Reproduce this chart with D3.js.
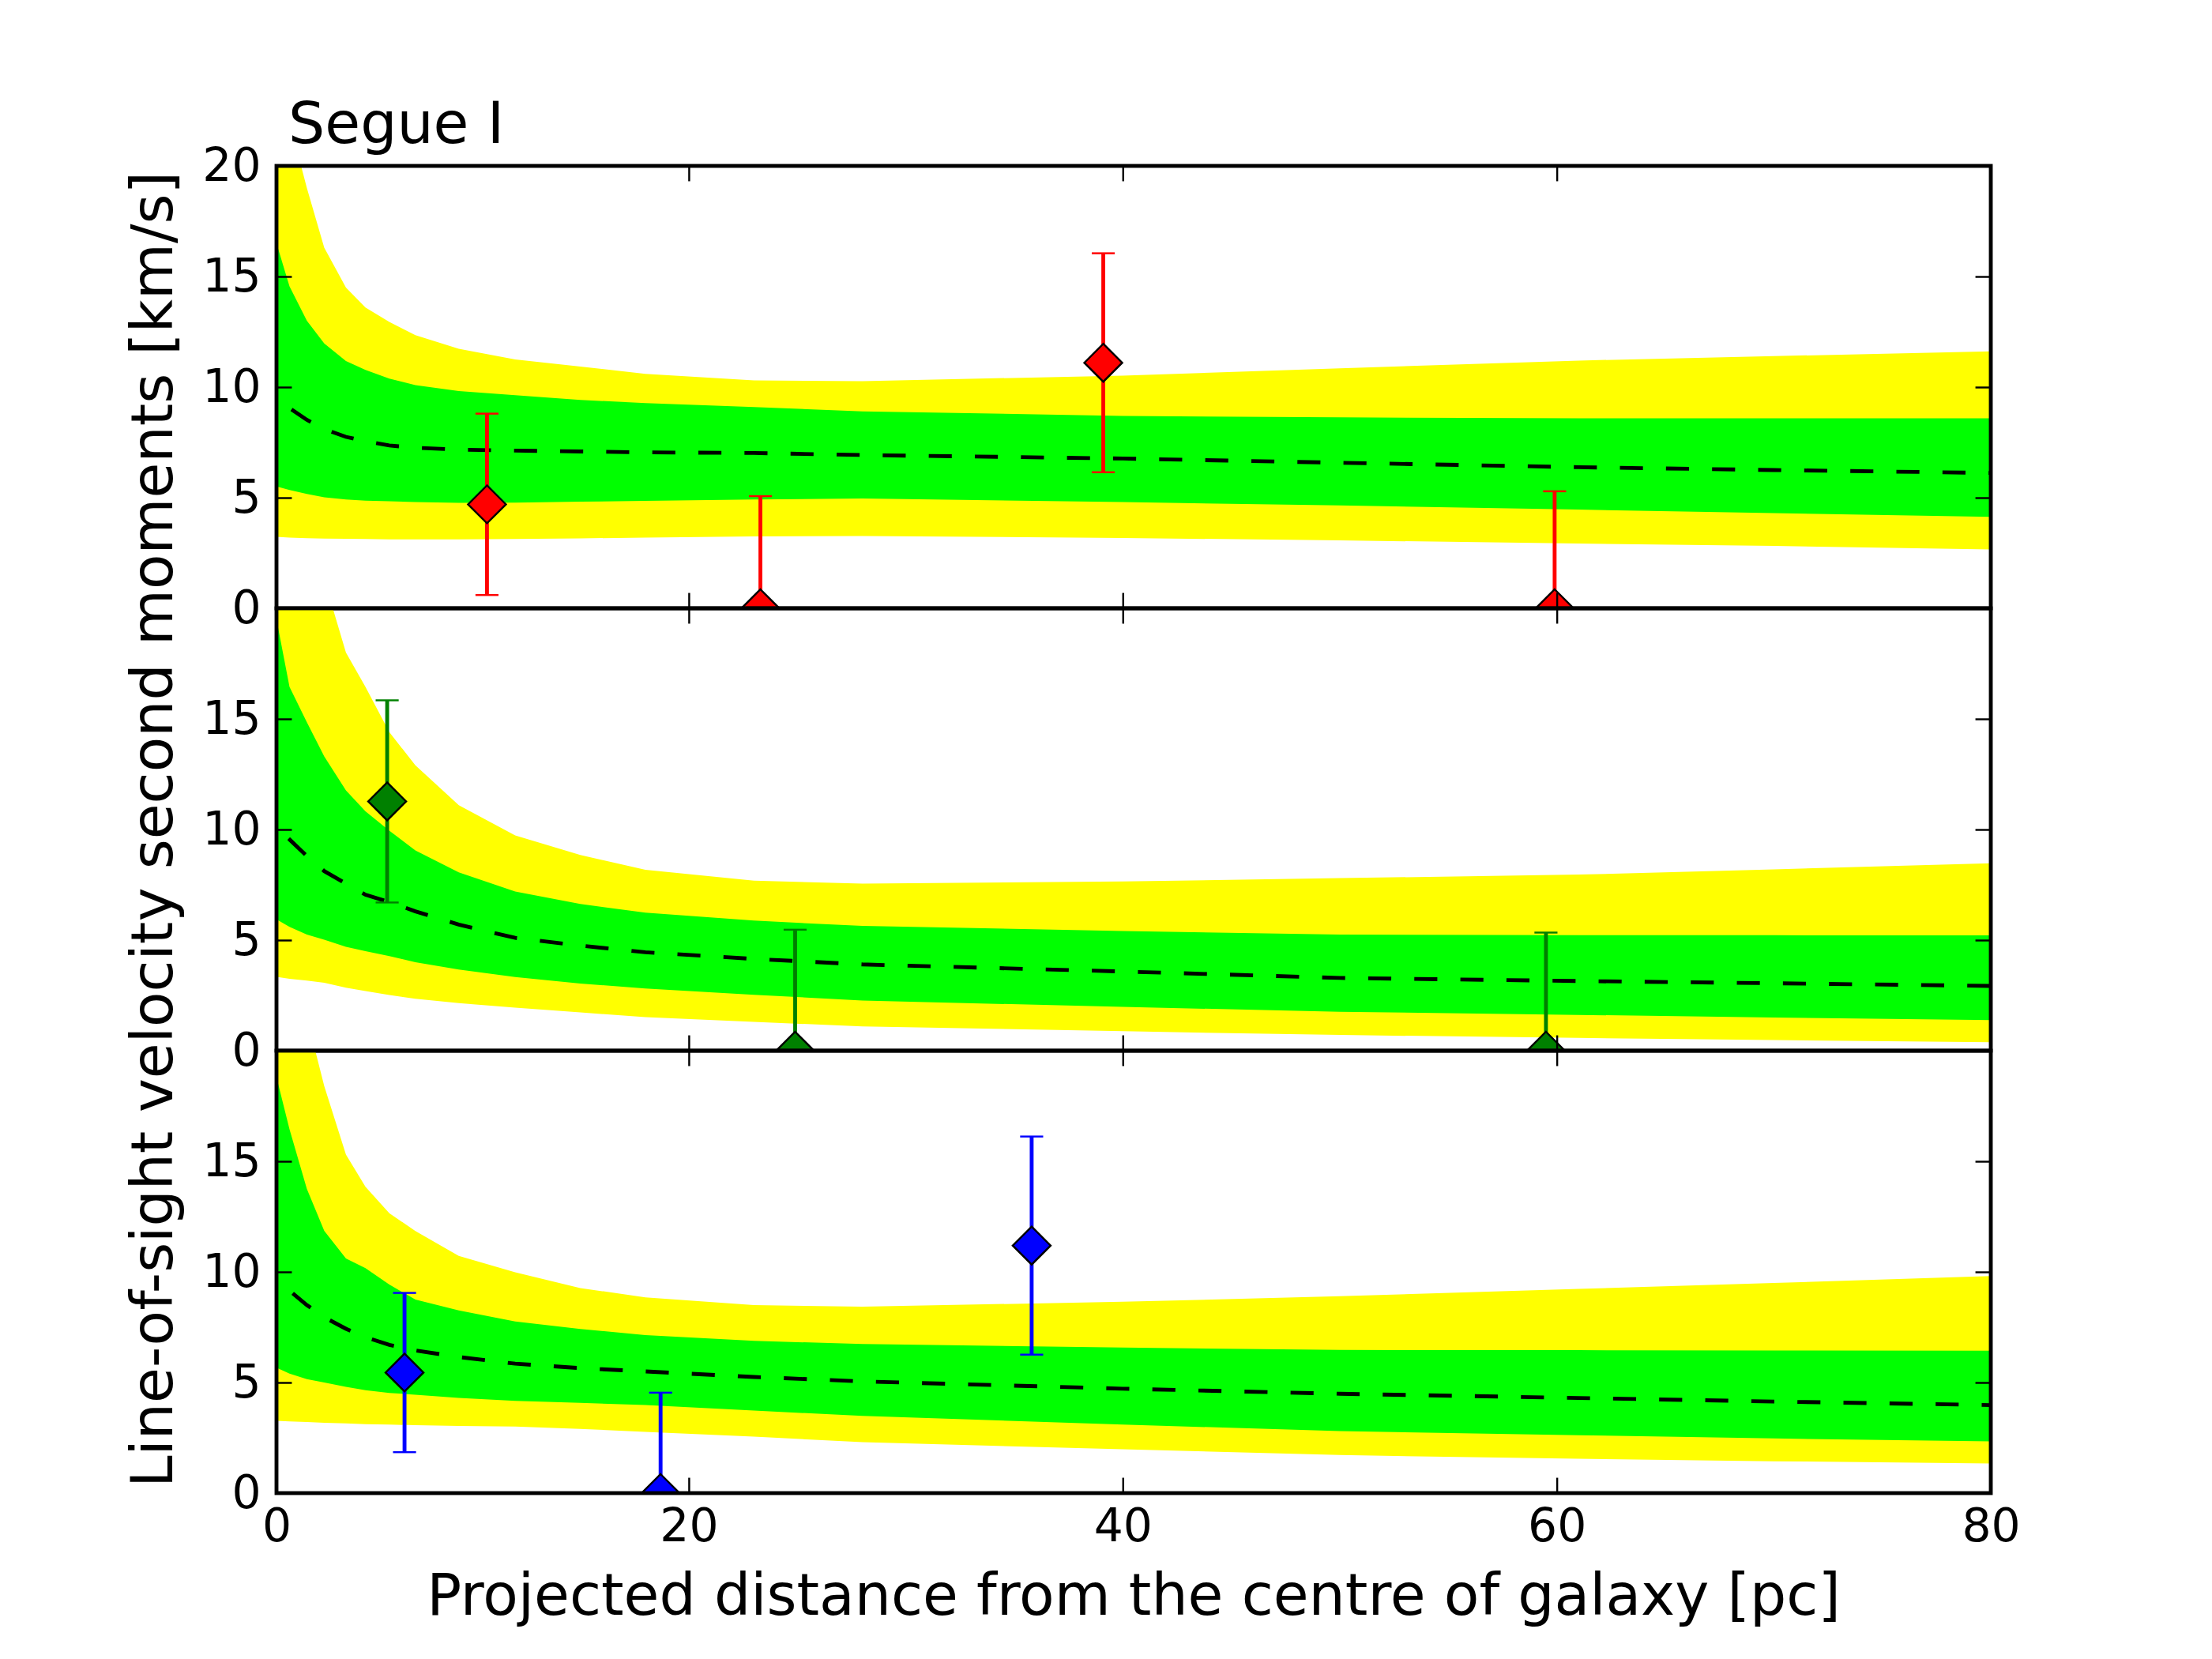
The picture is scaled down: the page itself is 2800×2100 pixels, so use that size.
<!DOCTYPE html>
<html>
<head>
<meta charset="utf-8">
<script src="https://cdn.jsdelivr.net/npm/d3@7"></script>
<style>
  html, body { margin: 0; padding: 0; background: #ffffff; }
  svg { display: block; }
  text { font-family: "DejaVu Sans", sans-serif; }
</style>
</head>
<body>
<script>
// ---------------- data ----------------
const title = "Segue I";
const xLabel = "Projected distance from the centre of galaxy [pc]";
const yLabel = "Line-of-sight velocity second moments [km/s]";

const xTickValues = [1, 20, 40, 60, 80];
const xTickLabels = ["0", "20", "40", "60", "80"];
const yTickValues = [0, 5, 10, 15, 20];

const radii = [0, 1, 1.6, 2.4, 3.2, 4.2, 5.1, 6.2, 7.4, 9.4, 12, 15, 18, 23, 28, 40, 50, 61, 70, 80];

// top panel (red)
const topHi2 = [30, 26, 22, 19.0, 16.3, 14.5, 13.6, 12.95, 12.35, 11.73, 11.25, 10.93, 10.6, 10.3, 10.27, 10.52, 10.85, 11.2, 11.4, 11.62];
const topHi1 = [19.5, 16.5, 14.55, 13.0, 11.97, 11.18, 10.78, 10.38, 10.09, 9.82, 9.63, 9.42, 9.28, 9.1, 8.9, 8.70, 8.63, 8.59, 8.59, 8.59];
const topMed = [10.25, 9.5, 9.05, 8.52, 8.1, 7.75, 7.55, 7.36, 7.26, 7.17, 7.13, 7.09, 7.05, 7.02, 6.93, 6.77, 6.58, 6.38, 6.25, 6.12];
const topLo1 = [5.7, 5.51, 5.35, 5.17, 5.02, 4.92, 4.87, 4.84, 4.8, 4.77, 4.78, 4.82, 4.86, 4.92, 4.96, 4.80, 4.65, 4.46, 4.3, 4.13];
const topLo2 = [3.25, 3.23, 3.2, 3.17, 3.15, 3.14, 3.13, 3.12, 3.12, 3.12, 3.13, 3.16, 3.2, 3.25, 3.27, 3.18, 3.07, 2.93, 2.82, 2.66];

// middle panel (green)
const midHi2 = [35, 30, 26, 23, 21.3, 18.0, 16.45, 14.4, 12.9, 11.1, 9.73, 8.85, 8.18, 7.69, 7.55, 7.65, 7.8, 7.96, 8.2, 8.47];
const midHi1 = [23, 19.5, 16.45, 14.85, 13.3, 11.77, 10.82, 9.95, 9.05, 8.06, 7.2, 6.63, 6.24, 5.88, 5.64, 5.41, 5.25, 5.22, 5.22, 5.21];
const midMed = [11.0, 10.1, 9.55, 8.8, 8.12, 7.55, 7.05, 6.72, 6.3, 5.7, 5.1, 4.75, 4.45, 4.15, 3.9, 3.58, 3.29, 3.15, 3.05, 2.93];
const midLo1 = [6.3, 5.94, 5.6, 5.25, 5.02, 4.7, 4.5, 4.28, 4.0, 3.67, 3.33, 3.04, 2.81, 2.53, 2.27, 1.98, 1.76, 1.62, 1.5, 1.38];
const midLo2 = [3.45, 3.34, 3.25, 3.17, 3.07, 2.85, 2.7, 2.52, 2.35, 2.15, 1.95, 1.73, 1.52, 1.3, 1.1, 0.88, 0.71, 0.58, 0.48, 0.38];

// bottom panel (blue)
const botHi2 = [32, 28, 25, 21.5, 18.4, 15.3, 13.85, 12.65, 11.85, 10.72, 9.98, 9.27, 8.85, 8.5, 8.43, 8.65, 8.9, 9.23, 9.5, 9.81];
const botHi1 = [22, 18.8, 16.45, 13.75, 11.86, 10.61, 10.17, 9.43, 8.75, 8.26, 7.76, 7.42, 7.14, 6.88, 6.74, 6.58, 6.47, 6.46, 6.45, 6.44];
const botMed = [10.2, 9.65, 9.15, 8.5, 7.95, 7.43, 7.05, 6.7, 6.45, 6.15, 5.85, 5.65, 5.5, 5.25, 5.05, 4.72, 4.49, 4.3, 4.14, 3.98];
const botLo1 = [5.95, 5.67, 5.4, 5.15, 5.0, 4.8, 4.65, 4.53, 4.45, 4.3, 4.17, 4.08, 3.98, 3.73, 3.49, 3.1, 2.8, 2.62, 2.47, 2.34];
const botLo2 = [3.3, 3.27, 3.24, 3.21, 3.18, 3.15, 3.12, 3.1, 3.07, 3.04, 3.01, 2.9, 2.77, 2.55, 2.3, 1.98, 1.72, 1.55, 1.44, 1.34];

// measured points with symmetric errors
const redX = [10.7, 23.3, 39.1, 59.9];
const redY = [4.7, 0, 11.1, 0];
const redErr = [4.1, 5.07, 4.95, 5.29];

const greenX = [6.1, 24.9, 59.5];
const greenY = [11.27, 0, 0];
const greenErr = [4.57, 5.47, 5.34];

const blueX = [6.9, 18.7, 35.8];
const blueY = [5.45, 0, 11.19];
const blueErr = [3.6, 4.54, 4.93];

// ---------------- layout ----------------
const W = 2800, H = 2100;
const mLeft = 350, mRight = 2520, mTop = 210, mBottom = 1890;
const panelH = (mBottom - mTop) / 3;
const PT = 350 / 72;              // px per point
const tickFont = 12 * PT;
const labelFont = 15 * PT;
const tickLen = 4 * PT;
const tickW = 0.5 * PT;
const spineW = 1 * PT;

const panels = [
  { hi2: topHi2, hi1: topHi1, med: topMed, lo1: topLo1, lo2: topLo2, px: redX, py: redY, pe: redErr, color: "#ff0000" },
  { hi2: midHi2, hi1: midHi1, med: midMed, lo1: midLo1, lo2: midLo2, px: greenX, py: greenY, pe: greenErr, color: "#008000" },
  { hi2: botHi2, hi1: botHi1, med: botMed, lo1: botLo1, lo2: botLo2, px: blueX, py: blueY, pe: blueErr, color: "#0000ff" }
];

const svg = d3.select("body").append("svg").attr("width", W).attr("height", H);
svg.append("rect").attr("width", W).attr("height", H).attr("fill", "#ffffff");

const x = d3.scaleLinear().domain([1, 80]).range([mLeft, mRight]);

panels.forEach((p, i) => {
  const y0 = mTop + i * panelH, y1 = y0 + panelH;
  const y = d3.scaleLinear().domain([0, 20]).range([y1, y0]);

  const clipId = "clip" + i;
  svg.append("clipPath").attr("id", clipId).append("rect")
    .attr("x", mLeft).attr("y", y0).attr("width", mRight - mLeft).attr("height", panelH);

  const g = svg.append("g").attr("clip-path", `url(#${clipId})`);

  const idx = d3.range(radii.length);
  const area = (lo, hi) => d3.area().x(k => x(radii[k])).y0(k => y(lo[k])).y1(k => y(hi[k]))(idx);

  g.append("path").attr("d", area(p.lo2, p.hi2)).attr("fill", "#ffff00").attr("stroke", "none");
  g.append("path").attr("d", area(p.lo1, p.hi1)).attr("fill", "#00ff00").attr("stroke", "none");
  g.append("path")
    .attr("d", d3.line().x(k => x(radii[k])).y(k => y(p.med[k]))(idx))
    .attr("fill", "none").attr("stroke", "#000").attr("stroke-width", spineW)
    .attr("stroke-dasharray", `${6 * PT},${6 * PT}`);

  const pts = d3.range(p.px.length);
  g.selectAll(null).data(pts).enter().append("line")
    .attr("x1", k => x(p.px[k])).attr("x2", k => x(p.px[k]))
    .attr("y1", k => y(p.py[k] - p.pe[k])).attr("y2", k => y(p.py[k] + p.pe[k]))
    .attr("stroke", p.color).attr("stroke-width", spineW);
  const capHalf = 3 * PT;
  [-1, 1].forEach(sgn => {
    g.selectAll(null).data(pts).enter().append("line")
      .attr("x1", k => x(p.px[k]) - capHalf).attr("x2", k => x(p.px[k]) + capHalf)
      .attr("y1", k => y(p.py[k] + sgn * p.pe[k])).attr("y2", k => y(p.py[k] + sgn * p.pe[k]))
      .attr("stroke", p.color).attr("stroke-width", tickW);
  });
  const r = 24;
  g.selectAll(null).data(pts).enter().append("path")
    .attr("d", k => {
      const cx = x(p.px[k]), cy = y(p.py[k]);
      return `M${cx},${cy - r}L${cx + r},${cy}L${cx},${cy + r}L${cx - r},${cy}Z`;
    })
    .attr("fill", p.color).attr("stroke", "#000").attr("stroke-width", tickW);

  const fmtY = v => (i > 0 && v === 20) ? "" : String(v);
  const axL = svg.append("g").attr("transform", `translate(${mLeft},0)`)
    .call(d3.axisLeft(y).tickValues(yTickValues).tickFormat(fmtY).tickSizeInner(-tickLen).tickSizeOuter(0).tickPadding(tickLen));
  const axR = svg.append("g").attr("transform", `translate(${mRight},0)`)
    .call(d3.axisRight(y).tickValues(yTickValues).tickFormat("").tickSizeInner(-tickLen).tickSizeOuter(0));
  const axT = svg.append("g").attr("transform", `translate(0,${y0})`)
    .call(d3.axisTop(x).tickValues(xTickValues).tickFormat("").tickSizeInner(-tickLen).tickSizeOuter(0));
  const axB = svg.append("g").attr("transform", `translate(0,${y1})`)
    .call(d3.axisBottom(x).tickValues(xTickValues)
      .tickFormat((v, j) => i === 2 ? xTickLabels[j] : "")
      .tickSizeInner(-tickLen).tickSizeOuter(0).tickPadding(tickLen));
  [axL, axR, axT, axB].forEach(a => {
    a.select(".domain").remove();
    a.selectAll(".tick line").attr("stroke", "#000").attr("stroke-width", tickW);
    a.selectAll(".tick text").attr("fill", "#000").style("font-size", tickFont + "px")
      .style("font-family", "'DejaVu Sans', sans-serif");
  });

  svg.append("rect").attr("x", mLeft).attr("y", y0).attr("width", mRight - mLeft).attr("height", panelH)
    .attr("fill", "none").attr("stroke", "#000").attr("stroke-width", spineW);
});

svg.append("text").attr("x", 365).attr("y", 181)
  .style("font-size", labelFont + "px").attr("fill", "#000").text(title);

svg.append("text").attr("x", (mLeft + mRight) / 2).attr("y", 2044)
  .attr("text-anchor", "middle").style("font-size", labelFont + "px").attr("fill", "#000").text(xLabel);

svg.append("text").attr("transform", `translate(218,${(mTop + mBottom) / 2}) rotate(-90)`)
  .attr("text-anchor", "middle").style("font-size", labelFont + "px").attr("fill", "#000").text(yLabel);
</script>
</body>
</html>
